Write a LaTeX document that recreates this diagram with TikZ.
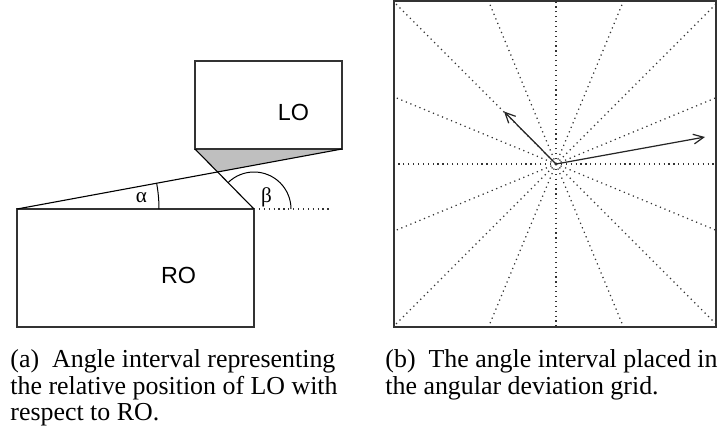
\documentclass[tikz,border=0pt]{standalone}
\usepackage{fontspec}
\setmainfont{Liberation Serif}
\newfontfamily\labelsans{Liberation Sans}
\usetikzlibrary{arrows.meta}
\begin{document}
\begin{tikzpicture}[x=0.45pt,y=-0.45pt,
  box/.style={draw=black!80,line width=0.5pt},
  edge/.style={draw=black,line width=0.5pt},
  grid/.style={draw=black!80,line width=0.55pt,dash pattern=on 0.55pt off 1.65pt},
  vec/.style={draw=black!85,line width=0.55pt,-{Straight Barb[length=4.6pt,width=4.4pt]}},
  objlabel/.style={font=\labelsans\fontsize{10.5}{12}\selectfont,inner sep=0pt},
  anglabel/.style={font=\fontsize{9.5}{10}\selectfont,inner sep=0pt},
  captext/.style={font=\fontsize{11.65}{11.9}\selectfont,inner sep=0pt,anchor=base west}]
\useasboundingbox (0,0) rectangle (720,441);
% ---------- panel (a) ----------
\coordinate (ROtl) at (17,209);
\coordinate (ROtr) at (254,209);
\coordinate (RObr) at (254,327);
\coordinate (LObl) at (195,149);
\coordinate (LObr) at (342,149);
\coordinate (LOtr) at (342,61);
\coordinate (X) at (intersection of ROtl--LObr and ROtr--LObl);
\fill[black!25] (LObl) -- (LObr) -- (X) -- cycle;
\draw[box] (ROtl) rectangle (RObr);
\draw[box] (LObl) rectangle (LOtr);
\draw[edge] (ROtl) -- (LObr);
\draw[edge] (ROtr) -- (LObl);
\coordinate (dotend) at (330,209);
\draw[grid] (ROtr) -- (dotend);
% alpha arc
\draw[edge,line width=0.45pt] ([shift={(0:142)}]ROtl) arc[start angle=0,end angle=-10.5,radius=142];
% beta arc
\draw[edge,line width=0.45pt] ([shift={(0:37)}]ROtr) arc[start angle=0,end angle=-134.5,radius=37];
\node[anglabel] (alpha) at (141.5,197.5) {α};
\node[anglabel] (beta) at (266.5,197) {β};
\node[objlabel] (LO) at (293.5,112) {LO};
\node[objlabel] (RO) at (178.5,275) {RO};
% ---------- panel (b) ----------
\coordinate (C) at (556,164);
\draw[box] (394,1) rectangle (716,327);
\begin{scope}
\clip (394,1) rectangle (716,327);
\foreach \a in {0,22.5,...,337.5}{
  \draw[grid] (C) -- ++(\a:240);
}
\end{scope}
\coordinate (A1) at (504,111.5);
\coordinate (A2) at (705,137);
\draw[vec] (C) -- (A1);
\draw[vec] (C) -- (A2);
% ---------- captions ----------
\node[captext] (capa1) at (10,367) {(a)\ \ Angle interval representing};
\node[captext] (capa2) at (10,394) {the relative position of LO with};
\node[captext] (capa3) at (10,420) {respect to RO.};
\node[captext] (capb1) at (385,367) {(b)\ \ The angle interval placed in};
\node[captext] (capb2) at (385,394) {the angular deviation grid.};
\end{tikzpicture}
\end{document}
